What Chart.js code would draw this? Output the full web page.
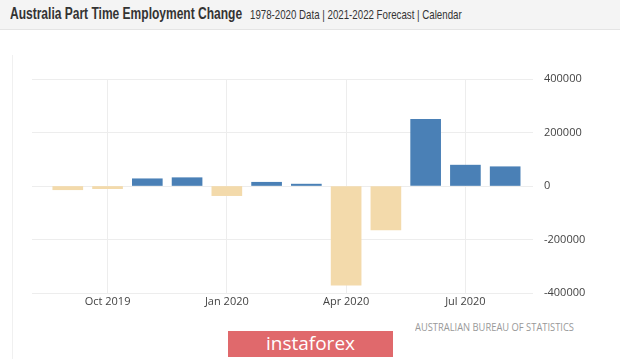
<!DOCTYPE html>
<html>
<head>
<meta charset="utf-8">
<script src="https://cdn.jsdelivr.net/npm/chart.js@4.4.0/dist/chart.umd.min.js"></script>
<style>
  body { margin: 0; width: 620px; height: 359px; background: #fff; position: relative; overflow: hidden; font-family: "Open Sans", sans-serif; }
  .cabecalho { position: absolute; left: 0; top: 0; width: 620px; height: 29px; background: #f4f4f4; border-bottom: 1px solid #e4e4e4; }
  .titulo { position: absolute; left: 10px; top: 5px; font: bold 16px "Liberation Sans", Arial, sans-serif; color: #333; white-space: nowrap; transform-origin: left center; }
  .subtitulo { position: absolute; left: 250px; top: 7px; font: 13px "Liberation Sans", Arial, sans-serif; color: #333; white-space: nowrap; transform-origin: left center; }
  .borda { position: absolute; left: 12px; top: 55px; width: 1px; height: 304px; background: #f0f0f0; }
  #box { position: absolute; left: 0; top: 60px; width: 620px; height: 260px; }
  .fonte { position: absolute; left: 415px; top: 320px; font-size: 10px; color: #999; white-space: nowrap; transform-origin: left center; }
  .botao { position: absolute; left: 228px; top: 331px; width: 165px; height: 26px; background: #e0696c; color: #fff; text-align: center; font-size: 19px; line-height: 25px; }
</style>
</head>
<body>
<div class="cabecalho">
  <span class="titulo" id="titulo">Australia Part Time Employment Change</span>
  <span class="subtitulo" id="subtitulo">1978-2020 Data | 2021-2022 Forecast | Calendar</span>
</div>
<div class="borda"></div>
<div id="box"><canvas id="grafico"></canvas></div>
<div class="fonte" id="fonte">AUSTRALIAN BUREAU OF STATISTICS</div>
<div class="botao">instaforex</div>

<script>
const meses = ["Sep 2019", "Oct 2019", "Nov 2019", "Dec 2019", "Jan 2020", "Feb 2020",
  "Mar 2020", "Apr 2020", "May 2020", "Jun 2020", "Jul 2020", "Aug 2020"];
const valores = [-14000, -10000, 27000, 31000, -36000, 14000, 7000, -371000, -164000, 249000, 78000, 72000];
const mesesComRotulo = [1, 4, 7, 10];
const ticksY = [-400000, -200000, 0, 200000, 400000];

const azul = "#4a80b6";
const bege = "#f3daab";

// encaixa textos na largura da imagem original
function ajustarLargura(id, largura) {
  let el = document.getElementById(id);
  el.style.transform = "scaleX(" + (largura / el.offsetWidth) + ")";
}
ajustarLargura("titulo", 232);
ajustarLargura("subtitulo", 212);
ajustarLargura("fonte", 159);

let dados = [];
for (let i = 0; i < valores.length; i++) {
  dados.push({ x: i, y: valores[i] });
}

const ctx = document.getElementById("grafico");

new Chart(ctx, {
  type: "bar",
  data: {
    datasets: [{
      data: dados,
      backgroundColor: function (c) { return c.raw && c.raw.y < 0 ? bege : azul; },
      barThickness: 30,
      borderWidth: 0
    }]
  },
  options: {
    responsive: true,
    maintainAspectRatio: false,
    animation: false,
    layout: { padding: { left: 32, right: 0, top: 19, bottom: 7 } },
    plugins: { legend: { display: false }, tooltip: { enabled: false } },
    scales: {
      x: {
        type: "linear",
        min: -0.9,
        max: 11.7,
        offset: false,
        afterBuildTicks: function (scale) {
          scale.ticks = mesesComRotulo.map(function (v) { return { value: v }; });
        },
        afterFit: function (scale) { scale.height = 20; },
        ticks: {
          padding: 2,
          color: "#444",
          font: { family: "Open Sans", size: 11 },
          maxRotation: 0,
          callback: function (v) { return meses[v]; }
        },
        grid: { color: "#ededed", drawTicks: false, offset: false },
        border: { display: false }
      },
      y: {
        position: "right",
        min: -400000,
        max: 400000,
        afterBuildTicks: function (scale) {
          scale.ticks = ticksY.map(function (v) { return { value: v }; });
        },
        afterFit: function (scale) { scale.width = 87; },
        ticks: {
          padding: 11,
          color: "#444",
          font: { family: "Open Sans", size: 11 },
          callback: function (v) { return String(v); }
        },
        grid: { color: "#ededed", drawTicks: false },
        border: { display: false }
      }
    }
  }
});
</script>
</body>
</html>
